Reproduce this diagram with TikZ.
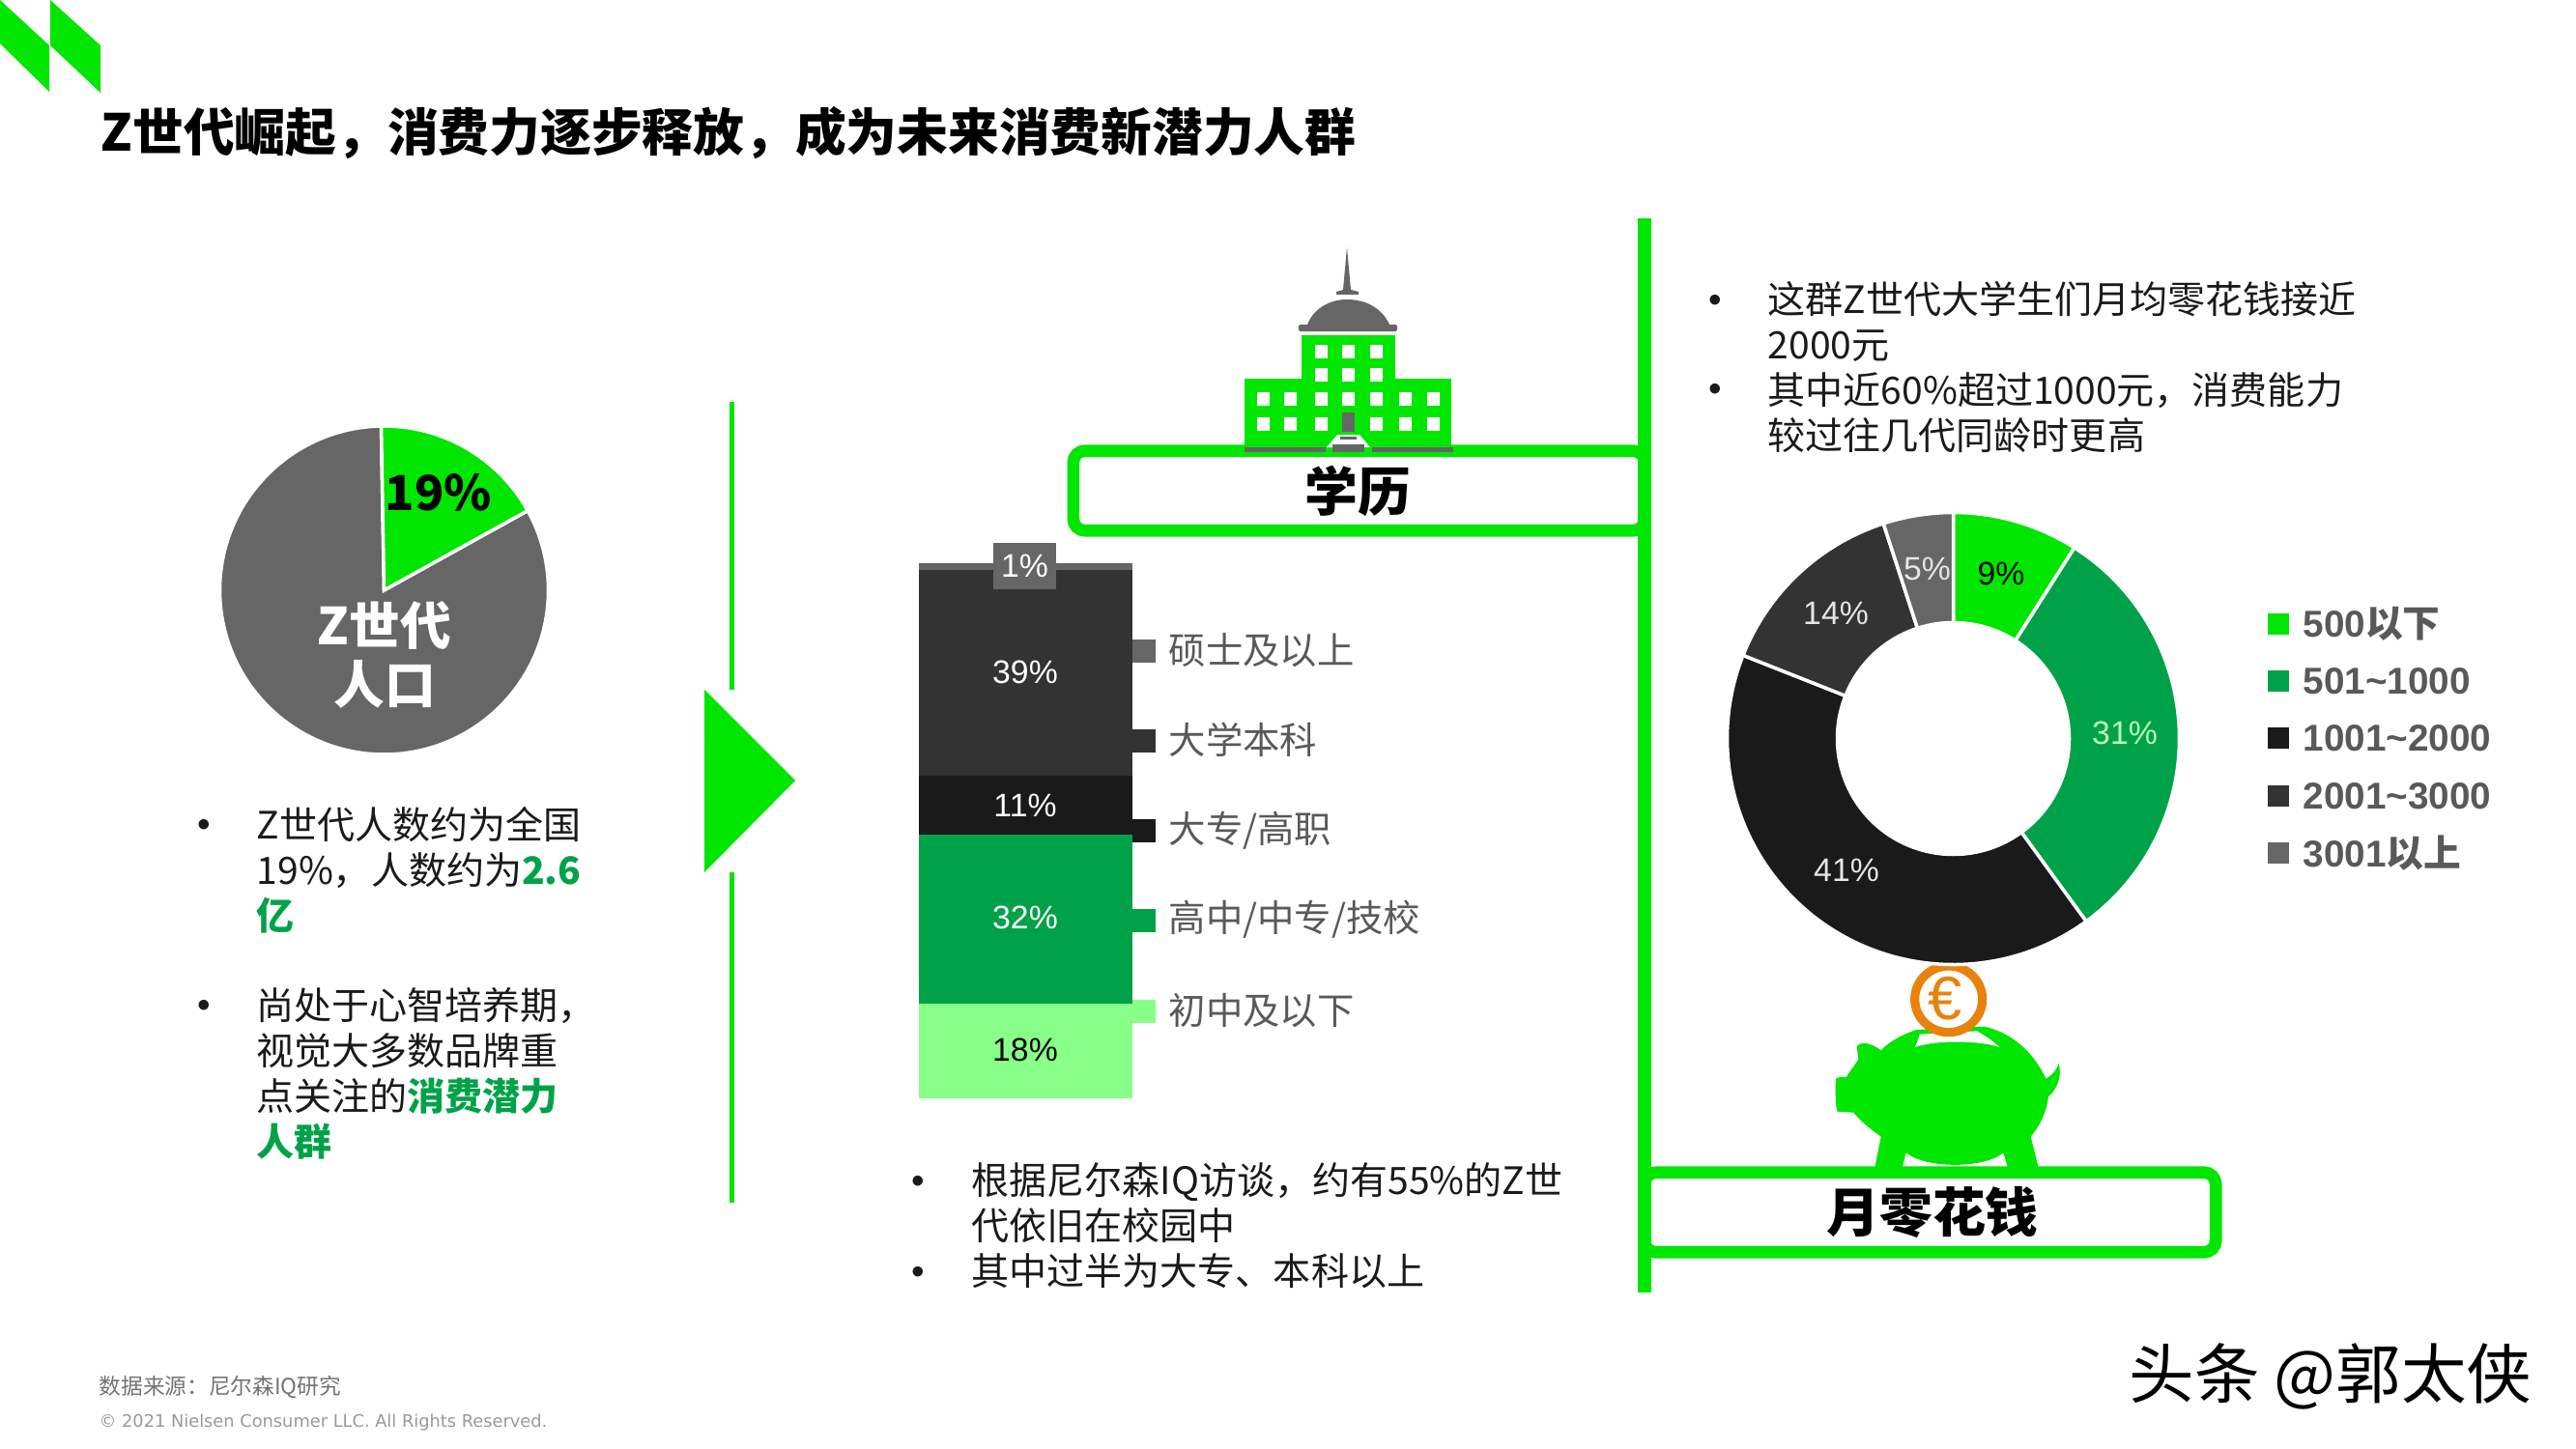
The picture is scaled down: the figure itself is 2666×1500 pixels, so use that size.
\documentclass[tikz,border=0pt]{standalone}
\usepackage{fontspec}
\setmainfont{Noto Sans CJK SC}
\newfontfamily\arialfont{Liberation Sans}
\newfontfamily\wfont{DejaVu Sans}
\usepackage{tikz}

\definecolor{grn}{HTML}{00E600}
\definecolor{dgrn}{HTML}{00A249}
\definecolor{lgrn}{HTML}{88FF88}
\definecolor{g1}{HTML}{666666}
\definecolor{g2}{HTML}{333333}
\definecolor{g3}{HTML}{1A1A1A}
\definecolor{txt}{HTML}{595959}
\definecolor{org}{HTML}{E8820C}

\tikzset{
	body/.style={anchor=north west,inner sep=0,align=left,text=g3,font=\fontsize{11.1}{13.35}\selectfont},
	dot/.style={inner sep=0,text=g3,font=\arialfont\fontsize{11}{13}\selectfont},
	pct/.style={inner sep=0,font=\arialfont\fontsize{9.6}{11}\selectfont},
	head/.style={inner sep=0,font=\bfseries\fontsize{15.6}{18}\selectfont},
	barlab/.style={anchor=west,inner sep=0,text=txt,font=\fontsize{10.9}{13}\selectfont},
	leglab/.style={anchor=west,inner sep=0,text=txt,font=\bfseries\fontsize{11}{13}\selectfont},
	sq/.style={inner sep=0,minimum width=0.24cm,minimum height=0.24cm},
	lsq/.style={inner sep=0,minimum width=0.22cm,minimum height=0.22cm},
	tag/.style={draw=grn,fill=white,line width=3.6pt,rounded corners=0.12cm,inner sep=0,minimum height=0.825cm,minimum width=5.91cm},
	win/.style={fill=white,inner sep=0,minimum width=0.13cm,minimum height=0.135cm},
	cut/.style={draw=white,line width=1pt},
}

\begin{document}
\begin{tikzpicture}[x=0.01cm,y=-0.01cm]
	\useasboundingbox (0,0) rectangle (2666,1500);

	% corner mark and title
	\fill[grn] (0,0) -- (51,47) -- (51,95) -- (0,45) -- cycle;
	\fill[grn] (52,0) -- (104,47) -- (104,96) -- (52,47) -- cycle;
	\node[anchor=west,inner sep=0,text=black,font=\bfseries\fontsize{15}{18}\selectfont] (t1) at (104,138) {Z世代崛起，消费力逐步释放，成为未来消费新潜力人群};

	% population pie
	\begin{scope}[shift={(397.5,611)}]
		\filldraw[fill=g1,cut] (0,0) -- (-91:170) arc[start angle=-91,end angle=-389,radius=170] -- cycle;
		\filldraw[fill=grn,cut] (0,0) -- (-91:170) arc[start angle=-91,end angle=-29,radius=170] -- cycle;
	\end{scope}
	\node[inner sep=0,text=black,font=\bfseries\fontsize{14.2}{18}\selectfont] (p1) at (454,510) {19\%};
	\node[inner sep=0,text=white,align=center,font=\bfseries\fontsize{15}{17.2}\selectfont] (p2) at (398,678) {Z世代\\人口};

	\node[dot] (d1) at (211,857) {•};
	\node[body] (l1) at (265,835) {Z世代人数约为全国\\19\%，人数约为\textcolor{dgrn}{\bfseries 2.6}\\\textcolor{dgrn}{\bfseries 亿}};
	\node[dot] (d2) at (211,1044) {•};
	\node[body] (l2) at (265,1022) {尚处于心智培养期，\\视觉大多数品牌重\\点关注的\textcolor{dgrn}{\bfseries 消费潜力}\\\textcolor{dgrn}{\bfseries 人群}};

	% divider with triangle
	\coordinate (v1) at (757.5,416);
	\coordinate (v2) at (757.5,1245);
	\draw[grn,line width=1.4pt] (v1) -- (v2);
	\fill[white] (729,714) rectangle (790,903);
	\fill[grn] (729,714) -- (823,808) -- (729,903) -- cycle;

	% stacked bar
	\fill[g1] (951,583) rectangle (1172,590);
	\fill[g2] (951,590) rectangle (1172,803);
	\fill[g3] (951,803) rectangle (1172,864);
	\fill[dgrn] (951,864) rectangle (1172,1039);
	\fill[lgrn] (951,1039) rectangle (1172,1137);
	\node[fill=g1,inner sep=0,minimum width=0.65cm,minimum height=0.48cm,text=white,font=\arialfont\fontsize{9.6}{11}\selectfont] (b1) at (1060.5,586) {1\%};
	\node[pct,text=white] (b2) at (1061,696) {39\%};
	\node[pct,text=white] (b3) at (1061,834) {11\%};
	\node[pct,text=white] (b4) at (1061,950) {32\%};
	\node[pct,text=black] (b5) at (1061,1087) {18\%};

	\node[sq,fill=g1] (s1) at (1184,674) {};
	\node[sq,fill=g2] (s2) at (1184,767) {};
	\node[sq,fill=g3] (s3) at (1184,860) {};
	\node[sq,fill=dgrn] (s4) at (1184,953) {};
	\node[sq,fill=lgrn] (s5) at (1184,1047) {};
	\node[barlab] (e1) at (1209,673) {硕士及以上};
	\node[barlab] (e2) at (1209,766) {大学本科};
	\node[barlab] (e3) at (1209,860) {大专/高职};
	\node[barlab] (e4) at (1209,952) {高中/中专/技校};
	\node[barlab] (e5) at (1209,1046) {初中及以下};

	\node[dot] (d3) at (950,1226) {•};
	\node[dot] (d4) at (950,1320) {•};
	\node[body] (m1) at (1005,1203) {根据尼尔森IQ访谈，约有55\%的Z世\\代依旧在校园中\\其中过半为大专、本科以上};

	% building
	\fill[g1] (1394,256) -- (1398,300) -- (1406,302) -- (1406,305) -- (1383,305) -- (1383,302) -- (1390,300) -- cycle;
	\fill[g1] (1353,336) .. controls (1360,318) and (1378,310) .. (1394,310) .. controls (1412,310) and (1430,318) .. (1438,336) -- cycle;
	\fill[g1,rounded corners=0.02cm] (1344,336) rectangle (1446,343);
	\fill[grn] (1347,347) rectangle (1444,392);
	\fill[grn] (1288,392) rectangle (1502,465);
	\node[win] (w1) at (1367,364) {};
	\node[win] (w2) at (1395,364) {};
	\node[win] (w3) at (1424,364) {};
	\node[win] (w4) at (1367,388) {};
	\node[win] (w5) at (1395,388) {};
	\node[win] (w6) at (1424,388) {};
	\node[win] (w7) at (1307,413) {};
	\node[win] (w8) at (1335,413) {};
	\node[win] (w9) at (1367,413) {};
	\node[win] (w10) at (1395,413) {};
	\node[win] (w11) at (1424,413) {};
	\node[win] (w12) at (1454,413) {};
	\node[win] (w13) at (1483,413) {};
	\node[win] (w14) at (1307,439) {};
	\node[win] (w15) at (1335,439) {};
	\node[win] (w16) at (1367,439) {};
	\node[win] (w17) at (1424,439) {};
	\node[win] (w18) at (1454,439) {};
	\node[win] (w19) at (1483,439) {};

	% tag boxes, spine
	\node[tag,head] (h1) at (1406.5,508) {\hspace*{-0.02cm}学历};
	\node[tag,head] (h2) at (1997.5,1255) {\hspace*{0.05cm}月零花钱};
	\coordinate (v3) at (1702,226);
	\coordinate (v4) at (1702,1338);
	\draw[grn,line width=4pt] (v3) -- (v4);

	% building door sits over the tag border
	\fill[g1] (1288,463) rectangle (1372,468);
	\fill[g1] (1420,463) rectangle (1504,468);
	\fill[white] (1373,463) -- (1384,450) -- (1407,450) -- (1418,463) -- cycle;
	\fill[g1] (1389,427) rectangle (1402,447);
	\fill[g1] (1387,452) rectangle (1404,455);
	\fill[g1] (1379,460) rectangle (1412,468);

	\node[dot] (d5) at (1775,314) {•};
	\node[dot] (d6) at (1775,406) {•};
	\node[body] (r1) at (1829,291) {这群Z世代大学生们月均零花钱接近\\2000元\\其中近60\%超过1000元，消费能力\\较过往几代同龄时更高};

	% coin and pig
	\begin{scope}[shift={(1840,980)},scale=1/3]
		\fill[grn] (180,410) .. controls (180,405) and (205,405) .. (212,405) .. controls (225,385) and (240,365) .. (250,350) -- (245,310) .. controls (255,295) and (285,295) .. (320,322) .. controls (350,290) and (395,270) .. (430,258) -- (640,248) .. controls (720,265) and (790,320) .. (832,410) .. controls (850,400) and (865,385) .. (872,362) .. controls (882,400) and (870,440) .. (840,465) .. controls (835,510) and (815,555) .. (785,590) -- (810,690) -- (715,690) -- (700,640) .. controls (640,690) and (460,690) .. (398,640) -- (385,690) -- (300,690) -- (320,590) .. controls (285,565) and (255,540) .. (235,515) -- (185,512) .. controls (178,500) and (178,430) .. (180,410) -- cycle;
		\fill[white] (425,312) .. controls (490,290) and (620,290) .. (688,312) .. controls (670,295) and (650,280) .. (618,262) -- (440,272) .. controls (436,285) and (432,300) .. (425,312) -- cycle;
		\filldraw[fill=white,draw=org,line width=2.6pt] (530,163) ellipse (105 and 103);
		\node[inner sep=0,text=org,font=\arialfont\fontsize{18}{20}\selectfont] (c1) at (518,160) {€};
	\end{scope}

	% donut
	\begin{scope}[shift={(2021.5,764.5)}]
		\filldraw[fill=grn,cut] (-90:234) arc[start angle=-90,end angle=-57.6,radius=234] -- (-57.6:120) arc[start angle=-57.6,end angle=-90,radius=120] -- cycle;
		\filldraw[fill=dgrn,cut] (-57.6:234) arc[start angle=-57.6,end angle=54,radius=234] -- (54:120) arc[start angle=54,end angle=-57.6,radius=120] -- cycle;
		\filldraw[fill=g3,cut] (54:234) arc[start angle=54,end angle=201.6,radius=234] -- (201.6:120) arc[start angle=201.6,end angle=54,radius=120] -- cycle;
		\filldraw[fill=g2,cut] (201.6:234) arc[start angle=201.6,end angle=252,radius=234] -- (252:120) arc[start angle=252,end angle=201.6,radius=120] -- cycle;
		\filldraw[fill=g1,cut] (252:234) arc[start angle=252,end angle=270,radius=234] -- (270:120) arc[start angle=270,end angle=252,radius=120] -- cycle;
	\end{scope}
	\node[pct,text=black] (n1) at (2071,594) {9\%};
	\node[pct,text=lgrn!60!white] (n2) at (2199,759) {31\%};
	\node[pct,text=white!90!black] (n3) at (1911,901) {41\%};
	\node[pct,text=white!90!black] (n4) at (1900,635) {14\%};
	\node[pct,text=white!90!black] (n5) at (1994.5,589) {5\%};

	\node[lsq,fill=grn] (k1) at (2358,646) {};
	\node[lsq,fill=dgrn] (k2) at (2358,705) {};
	\node[lsq,fill=g3] (k3) at (2358,764) {};
	\node[lsq,fill=g2] (k4) at (2358,824) {};
	\node[lsq,fill=g1] (k5) at (2358,883) {};
	\node[leglab] (q1) at (2383,646) {{\arialfont 500}以下};
	\node[leglab] (q2) at (2383,705) {{\arialfont 501\textasciitilde1000}};
	\node[leglab] (q3) at (2383,764) {{\arialfont 1001\textasciitilde2000}};
	\node[leglab] (q4) at (2383,824) {{\arialfont 2001\textasciitilde3000}};
	\node[leglab] (q5) at (2383,883) {{\arialfont 3001}以上};

	% footer
	\node[anchor=west,inner sep=0,text=black!55,font=\fontsize{6.45}{8}\selectfont] (f1) at (102,1436) {数据来源：尼尔森IQ研究};
	\node[anchor=west,inner sep=0,text=black!40,font=\wfont\fontsize{5.06}{6}\selectfont] (f2) at (102,1473) {© 2021 Nielsen Consumer LLC. All Rights Reserved.};
	\node[anchor=west,inner sep=0,text=black,font=\fontsize{19.2}{20}\selectfont] (f3) at (2203,1425) {头条 @郭太侠};
\end{tikzpicture}
\end{document}
